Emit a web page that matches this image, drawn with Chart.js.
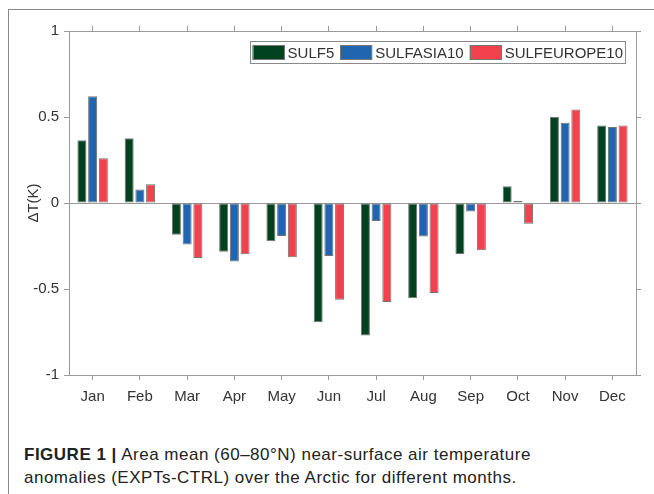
<!DOCTYPE html>
<html>
<head>
<meta charset="utf-8">
<script src="https://cdn.jsdelivr.net/npm/chart.js@4.4.0/dist/chart.umd.min.js"></script>
<style>
  html, body { margin: 0; padding: 0; width: 654px; height: 494px; overflow: hidden; background: #fff; }
  .frame { position: absolute; left: 8px; top: 9px; width: 700px; height: 520px; border-left: 1px solid #888; border-top: 1px solid #888; }
  .chart-box { position: absolute; left: 0; top: 0; width: 654px; height: 420px; }
  .caption { position: absolute; left: 24px; top: 443px; font-family: "Liberation Sans", Arial, sans-serif; font-size: 17px; letter-spacing: 0.5px; line-height: 23px; color: #222; }
</style>
</head>
<body>
<div class="frame"></div>
<div class="chart-box"><canvas id="chart"></canvas></div>
<div class="caption"><b>FIGURE 1 |</b> Area mean (60–80°N) near-surface air temperature<br>anomalies (EXPTs-CTRL) over the Arctic for different months.</div>

<script>
// Данные
const months = ['Jan', 'Feb', 'Mar', 'Apr', 'May', 'Jun', 'Jul', 'Aug', 'Sep', 'Oct', 'Nov', 'Dec'];
const sulf5 = [0.365, 0.376, -0.184, -0.283, -0.223, -0.694, -0.771, -0.554, -0.296, 0.097, 0.502, 0.45];
const sulfAsia10 = [0.62, 0.078, -0.242, -0.34, -0.192, -0.308, -0.105, -0.195, -0.05, 0.013, 0.467, 0.442];
const sulfEurope10 = [0.26, 0.109, -0.32, -0.298, -0.316, -0.562, -0.575, -0.523, -0.275, -0.12, 0.543, 0.45];
const yTicks = [-1, -0.5, 0, 0.5, 1];

const axisColor = '#9a9a9a';
const textColor = '#333';
const font = { family: '"Liberation Sans", Arial, sans-serif', size: 15 };

// Легенда внутри области графика (справа сверху, как в MATLAB)
const insideLegend = {
  id: 'insideLegend',
  afterDraw(chart) {
    const ctx = chart.ctx;
    const area = chart.chartArea;
    ctx.save();
    ctx.font = '15px "Liberation Sans", Arial, sans-serif';

    const items = chart.data.datasets.map(ds => ({
      text: ds.label,
      color: ds.backgroundColor,
      width: ctx.measureText(ds.label).width
    }));

    const sw = 32, sh = 15, pad = 3, gap = 3, itemGap = 6, boxH = 23;
    const total = pad * 2 + items.reduce((s, it) => s + sw + gap + it.width, 0) + itemGap * (items.length - 1);
    const right = area.right - 10;
    const top = area.top + 10;
    const left = right - total;

    ctx.fillStyle = '#fff';
    ctx.fillRect(left, top, total, boxH);
    ctx.strokeStyle = '#8a8a8a';
    ctx.lineWidth = 1;
    ctx.strokeRect(Math.round(left) + 0.5, top + 0.5, Math.round(total) - 1, boxH - 1);

    let x = left + pad;
    items.forEach(it => {
      ctx.fillStyle = it.color;
      ctx.fillRect(x, top + 4, sw, sh);
      ctx.strokeStyle = '#777';
      ctx.strokeRect(Math.round(x) + 0.5, top + 4.5, sw - 1, sh - 1);
      x += sw + gap;
      ctx.fillStyle = textColor;
      ctx.textBaseline = 'middle';
      ctx.fillText(it.text, x, top + boxH / 2 + 1);
      x += it.width + itemGap;
    });
    ctx.restore();
  }
};

function setYTicks(scale) {
  scale.ticks = yTicks.map(v => ({ value: v }));
}

function makeDataset(label, data, color) {
  return {
    label: label,
    data: data,
    backgroundColor: color,
    borderColor: 'rgba(90, 90, 90, 0.85)',
    borderWidth: 1,
    borderSkipped: false,
    categoryPercentage: 0.68,
    barPercentage: 0.84
  };
}

new Chart(document.getElementById('chart'), {
  type: 'bar',
  data: {
    labels: months,
    datasets: [
      makeDataset('SULF5', sulf5, '#00411f'),
      makeDataset('SULFASIA10', sulfAsia10, '#1f65b0'),
      makeDataset('SULFEUROPE10', sulfEurope10, '#f2424e')
    ]
  },
  options: {
    responsive: true,
    maintainAspectRatio: false,
    animation: false,
    layout: { padding: { left: 25, top: 26, right: 13, bottom: 0 } },
    plugins: {
      legend: { display: false },
      tooltip: { enabled: false }
    },
    scales: {
      x: {
        type: 'category',
        position: 'bottom',
        offset: true,
        grid: { display: true, drawOnChartArea: false, offset: false, tickLength: 5, tickColor: axisColor },
        border: { display: true, color: axisColor },
        ticks: { font: font, color: textColor, padding: 8, maxRotation: 0, autoSkip: false },
        afterFit(scale) { scale.height = 45; }
      },
      x2: {
        type: 'category',
        position: 'top',
        offset: true,
        grid: { display: true, drawOnChartArea: false, offset: false, tickLength: 5, tickColor: axisColor },
        border: { display: true, color: axisColor },
        ticks: { display: false },
        afterFit(scale) { scale.height = 5; }
      },
      y: {
        type: 'linear',
        position: 'left',
        min: -1,
        max: 1,
        afterBuildTicks: setYTicks,
        grid: {
          drawOnChartArea: true,
          color: c => (c.tick && c.tick.value === 0 ? axisColor : 'rgba(0,0,0,0)'),
          tickLength: 5,
          tickColor: axisColor
        },
        border: { display: true, color: axisColor },
        ticks: { font: font, color: textColor, padding: 5, callback: v => String(v) },
        title: { display: true, text: 'ΔT(K)', font: font, color: textColor, padding: 0 },
        afterFit(scale) { scale.width = 44; }
      },
      y2: {
        type: 'linear',
        position: 'right',
        min: -1,
        max: 1,
        afterBuildTicks: setYTicks,
        grid: { drawOnChartArea: false, tickLength: 5, tickColor: axisColor },
        border: { display: true, color: axisColor },
        ticks: { display: false },
        afterFit(scale) { scale.width = 5; }
      }
    }
  },
  plugins: [insideLegend]
});
</script>
</body>
</html>
